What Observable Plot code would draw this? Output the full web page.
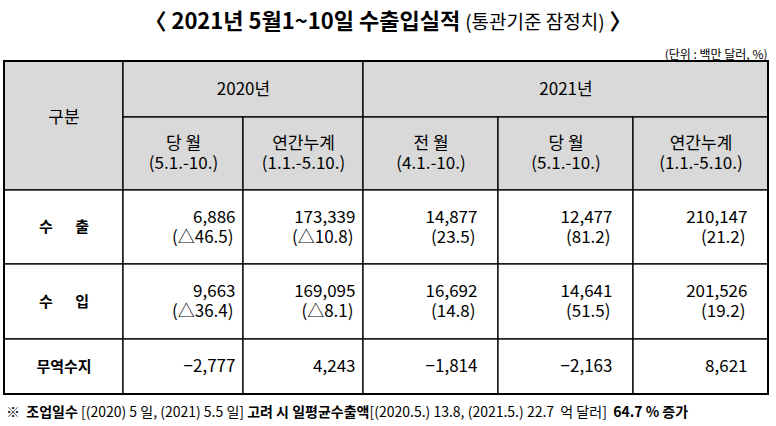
<!DOCTYPE html>
<html><head><meta charset="utf-8">
<script src="https://cdn.jsdelivr.net/npm/d3@7"></script>
<script src="https://cdn.jsdelivr.net/npm/@observablehq/plot@0.6"></script>
<style>
body{margin:0;background:#fff;font-family:"Noto Sans CJK KR","Noto Sans",sans-serif;color:#000;}
#title{height:40px;line-height:38px;text-align:center;white-space:pre;}
#title .b{font-weight:bold;font-size:22px;}
#title .n{font-size:19px;}
#footer{height:26px;line-height:22px;font-size:14px;padding-left:6px;white-space:pre;}
#footer b{font-weight:bold;}
#chart svg{display:block;}
</style></head><body>
<div id="title"></div><div id="chart"></div><div id="footer"></div>
<script>
// ---- data ----
const titleMain = "〈 2021년 5월1~10일 수출입실적";
const titleSub = "(통관기준 잠정치)";
const unitLabel = "(단위 : 백만 달러, %)";
const headerLabel = "구분";
const years = ["2020년", "2021년"];
const yearSpans = [2, 3];
const periodNames = ["당 월", "연간누계", "전 월", "당 월", "연간누계"];
const periodRanges = ["(5.1.-10.)", "(1.1.-5.10.)", "(4.1.-10.)", "(5.1.-10.)", "(1.1.-5.10.)"];
const rowLabels = ["수   출", "수   입", "무역수지"];
const exportValues = [6886, 173339, 14877, 12477, 210147];
const exportChanges = [-46.5, -10.8, 23.5, 81.2, 21.2];
const importValues = [9663, 169095, 16692, 14641, 201526];
const importChanges = [-36.4, -8.1, 14.8, 51.5, 19.2];
const balanceValues = [-2777, 4243, -1814, -2163, 8621];
const workDays = [["2020", "5"], ["2021", "5.5"]];
const dailyExports = [["2020.5.", "13.8"], ["2021.5.", "22.7"]];
const dailyGrowth = "64.7";

// ---- layout ----
const W = 776, H = 360;
const colEdges = [4, 123, 243, 363, 498, 633, 768];
const rowEdges = [21, 77, 150, 224, 299, 354];
const FONT = '"Noto Sans CJK KR","Noto Sans",sans-serif';

document.getElementById("title").innerHTML =
  `<span class="b">${titleMain} </span><span class="n">${titleSub}</span><span class="b"> 〉</span>`;

const fmt = d3.format(",");
const fmtChg = v => v < 0 ? `(△${Math.abs(v).toFixed(1)})` : `(${v.toFixed(1)})`;

// header cells
const headerCells = [{x1: 0, x2: 1, y1: 0, y2: 2}];
let c = 1;
years.forEach((y, i) => { headerCells.push({x1: c, x2: c + yearSpans[i], y1: 0, y2: 1, label: y}); c += yearSpans[i]; });
periodNames.forEach((p, i) => headerCells.push({x1: i + 1, x2: i + 2, y1: 1, y2: 2}));
const dataCells = [];
for (let r = 0; r < 3; r++) for (let k = 0; k < 6; k++) dataCells.push({x1: k, x2: k + 1, y1: r + 2, y2: r + 3});

const yearLabels = headerCells.filter(d => d.label).map(d => ({x: (d.x1 + d.x2) / 2, y: 0.5, t: d.label}));
const periodTop = periodNames.map((p, i) => ({x: i + 1.5, y: 1.5, t: p}));
const periodBottom = periodRanges.map((p, i) => ({x: i + 1.5, y: 1.5, t: p}));

const valueRows = [exportValues, importValues, balanceValues];
const changeRows = [exportChanges, importChanges, null];
const values = [], changes = [];
valueRows.forEach((arr, r) => arr.forEach((v, i) => {
  const two = changeRows[r] != null;
  // right edge of table column (i+1) is grid line i+2
  values.push({x: i + 2, y: r + 2.5, t: fmt(v), pad: i < 2 ? 8 : 21, dy: two ? -10 : 0});
  if (two) changes.push({x: i + 2, y: r + 2.5, t: fmtChg(changeRows[r][i]), pad: i < 2 ? 10 : 23});
}));
const labels = rowLabels.map((l, r) => ({x: 0.5, y: r + 2.5, t: l.replace(/ /g, "\u2002")}));

const chart = Plot.plot({
  width: W, height: H,
  margin: 0,
  style: {fontFamily: FONT, color: "#000", background: "#fff", overflow: "visible"},
  x: {type: "linear", domain: [0, 1, 2, 3, 4, 5, 6], range: colEdges, axis: null},
  y: {type: "linear", domain: [0, 1, 2, 3, 4, 5], range: rowEdges, axis: null},
  marks: [
    Plot.rect(headerCells, {x1: "x1", x2: "x2", y1: "y1", y2: "y2", fill: "#d9d9d9", stroke: "#000", strokeWidth: 1.3}),
    Plot.rect(dataCells, {x1: "x1", x2: "x2", y1: "y1", y2: "y2", fill: "#fff", stroke: "#000", strokeWidth: 1.3}),
    Plot.rect([{x1: 0, x2: 6, y1: 0, y2: 5}], {x1: "x1", x2: "x2", y1: "y1", y2: "y2", fill: "none", stroke: "#000", strokeWidth: 2}),
    Plot.text([unitLabel], {frameAnchor: "top-right", dx: -9, dy: 10, fontSize: 12, fill: "#000"}),
    Plot.text([headerLabel], {x: () => 0.5, y: () => 1, fontSize: 17, fill: "#000"}),
    Plot.text(yearLabels, {x: "x", y: "y", text: "t", fontSize: 17, fill: "#000"}),
    Plot.text(periodTop, {x: "x", y: "y", text: "t", dy: -10, fontSize: 17, fill: "#000"}),
    Plot.text(periodBottom, {x: "x", y: "y", text: "t", dy: 10, fontSize: 17, fill: "#000"}),
    Plot.text(labels, {x: "x", y: "y", text: "t", fontSize: 15, fontWeight: "bold", fill: "#000"}),
    ...[[8, -10], [21, -10], [8, 0], [21, 0]].map(([p, dy]) =>
      Plot.text(values.filter(d => d.pad === p && d.dy === dy), {x: "x", y: "y", text: "t", dx: -p, dy, fontSize: 17, textAnchor: "end", fill: "#000"})),
    ...[10, 23].map(p =>
      Plot.text(changes.filter(d => d.pad === p), {x: "x", y: "y", text: "t", dx: -p, dy: 10, fontSize: 17, textAnchor: "end", fill: "#000"}))
  ]
});
document.getElementById("chart").appendChild(chart);

document.getElementById("footer").innerHTML =
  `※  <b>조업일수</b> [(${workDays[0][0]}) ${workDays[0][1]} 일, (${workDays[1][0]}) ${workDays[1][1]} 일] <b>고려 시 일평균수출액</b>[(${dailyExports[0][0]}) ${dailyExports[0][1]}, (${dailyExports[1][0]}) ${dailyExports[1][1]}  억 달러]  <b>${dailyGrowth} % 증가</b>`;
</script>
</body></html>
